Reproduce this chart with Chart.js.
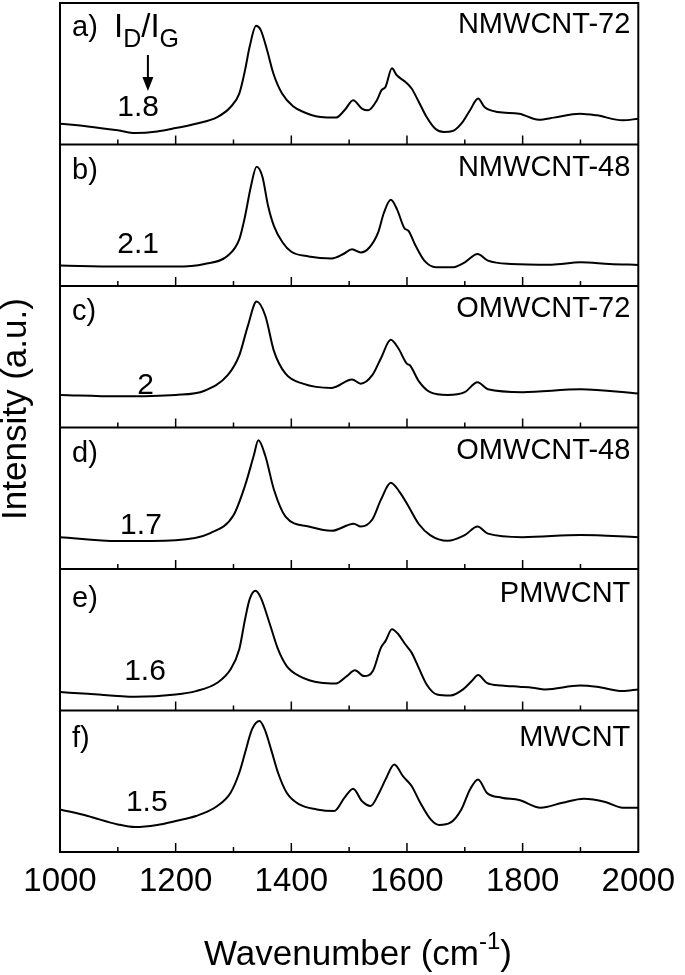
<!DOCTYPE html>
<html><head><meta charset="utf-8">
<script src="https://cdn.jsdelivr.net/npm/chart.js@4.4.1/dist/chart.umd.min.js"></script>
<style>html,body{margin:0;padding:0;background:#fff;}#wrap{width:685px;height:975px;}</style>
</head><body><div id="wrap"><canvas id="c" width="685" height="975"></canvas></div>
<script>
// ---- data ----
const panelLabels = ['a)','b)','c)','d)','e)','f)'];
const sampleNames = ['NMWCNT-72','NMWCNT-48','OMWCNT-72','OMWCNT-48','PMWCNT','MWCNT'];
const ratioLabels = ['1.8','2.1','2','1.7','1.6','1.5'];
const ratioWavenumbers = [1135,1135,1148,1140,1147,1150];
const xTickLabels = [1000,1200,1400,1600,1800,2000];

const wnA = [1000,1048,1100,1130,1168,1200,1235,1272,1295,1310,1320,1328,1339,1347,1358,1369,1384,1403,1421,1451,1477,1492,1507,1522,1533,1548,1556,1563,1574,1582,1597,1608,1619,1634,1649,1664,1679,1694,1709,1723,1734,1757,1794,1828,1854,1899,1928,1973,2000];
const intA = [14.7,12.8,10.0,8.1,9.2,11.6,14.7,19.4,26.5,36.0,52.6,69.2,83.9,81.0,66.8,50.2,36.0,27.0,23.0,19.4,19.0,24.2,31.3,25.4,24.2,31.3,38.4,40.8,53.8,49.1,44.3,39.6,31.3,19.4,11.1,8.8,9.5,14.7,24.2,32.5,26.5,23.0,21.8,17.5,19.0,21.8,20.6,17.1,18.2];

const wnB = [1000,1100,1200,1250,1290,1310,1320,1330,1340,1350,1360,1370,1385,1400,1430,1470,1490,1505,1520,1535,1550,1560,1572,1583,1595,1603,1615,1630,1650,1680,1700,1722,1740,1780,1850,1900,1950,2000];
const intB = [14.4,13.7,13.7,15.6,21.4,33.0,49.3,70.2,84.2,77.2,56.3,42.3,30.7,24.2,20.9,19.5,22.6,26.0,23.7,27.2,37.7,51.6,60.9,54.0,41.2,38.8,28.4,17.9,13.3,13.3,16.7,22.6,17.9,15.6,15.1,16.7,15.6,14.9];

const wnC = [1000,1100,1200,1250,1290,1310,1325,1340,1355,1370,1390,1420,1470,1505,1520,1540,1555,1572,1585,1600,1605,1620,1640,1670,1700,1722,1740,1800,1900,2000];
const intC = [23,22,23,26,37,51,72,89,79,54,38,31,28,34,31,37,49,62,56,45,44,33,25,23,25,32,27,25,27,24];

const wnD = [1000,1100,1200,1260,1300,1320,1335,1343,1355,1370,1390,1430,1470,1508,1520,1540,1555,1572,1588,1603,1620,1640,1670,1700,1722,1740,1800,1900,2000];
const intD = [22.5,19.7,20.4,25.4,38,59,80,91,80,56,37,30,27,32,30,35,49,61,54,44,32,24,20,24,30,25,22.5,24,22.5];

const wnE = [1000,1048,1130,1200,1235,1272,1295,1310,1320,1328,1338,1347,1362,1377,1392,1414,1451,1477,1496,1510,1526,1541,1555,1563,1574,1585,1597,1608,1619,1634,1652,1675,1697,1712,1723,1738,1764,1794,1817,1839,1899,1928,1973,2000];
const intE = [13.0,11.8,9.7,11.3,13.7,19.6,29.1,43.3,64.5,78.7,84.6,79.9,62.2,43.3,31.4,24.3,19.6,19.1,24.3,28.4,24.3,27.9,44.4,49.2,57.4,53.9,46.8,40.9,31.4,18.4,11.3,10.6,14.9,20.8,25.1,19.6,17.7,16.8,16.1,14.9,17.7,16.8,13.7,14.9];

const wnF = [1000,1048,1100,1130,1168,1200,1235,1272,1295,1310,1320,1332,1345,1354,1365,1377,1392,1414,1444,1474,1492,1507,1522,1537,1552,1563,1578,1593,1608,1623,1641,1656,1675,1694,1709,1723,1738,1764,1794,1831,1869,1906,1943,1973,2000];
const intF = [30.1,25.4,19.5,17.6,19.1,21.9,25.4,32.5,41.9,56.0,70.1,86.6,92.5,86.6,72.5,56.0,41.9,33.6,30.1,28.9,38.4,44.7,36.0,32.5,41.9,51.3,61.9,53.6,46.6,34.8,23.1,19.1,20.7,30.1,44.2,51.3,41.9,38.4,36.7,31.3,34.8,37.6,35.3,31.3,31.3];

const wavenumbers = [wnA,wnB,wnC,wnD,wnE,wnF];
const intensities = [intA,intB,intC,intD,intE,intF];
const NP = 6;

const FONT = '"Liberation Sans", Arial, Helvetica, sans-serif';
// text placement (px below each panel's top edge)
const ratioDy = [105,100,100,98,103,92];
const letterDy = [25,26,26,26,30,28];
const nameDy = [22,23,23,23,25,27];

const datasets = intensities.map((arr,i)=>({
  label: sampleNames[i],
  data: arr.map((v,k)=>({x: wavenumbers[i][k], y: (NP-1-i) + v/100})),
  borderColor:'#000', borderWidth:2, pointRadius:0, showLine:true, fill:false,
  cubicInterpolationMode:'monotone'
}));

function line(ctx,x1,y1,x2,y2){ctx.beginPath();ctx.moveTo(x1,y1);ctx.lineTo(x2,y2);ctx.stroke();}

const annot = {
  id:'annot',
  afterDraw(chart){
    const {ctx, chartArea:ca, scales:{x,y}} = chart;
    ctx.save();
    ctx.strokeStyle='#000'; ctx.fillStyle='#000'; ctx.lineWidth=2;
    ctx.strokeRect(ca.left, ca.top, ca.right-ca.left, ca.bottom-ca.top);
    for(let k=1;k<NP;k++){const py=y.getPixelForValue(k); line(ctx,ca.left,py,ca.right,py);}
    ctx.lineWidth=1.5;
    for(let k=0;k<NP;k++){
      const py=y.getPixelForValue(k);
      for(let v=1100; v<2000; v+=100){const px=x.getPixelForValue(v); line(ctx,px,py,px,py-(v%200===0?9:5));}
    }
    for(let i=0;i<NP;i++){
      const top = y.getPixelForValue(NP-i);
      ctx.font = '29px '+FONT;
      ctx.textBaseline='middle';
      ctx.textAlign='left';
      ctx.fillText(panelLabels[i], ca.left+12, top+letterDy[i]);
      ctx.textAlign='right';
      ctx.fillText(sampleNames[i], ca.right-8, top+nameDy[i]);
      ctx.textAlign='center';
      ctx.font = '30px '+FONT;
      ctx.fillText(ratioLabels[i], x.getPixelForValue(ratioWavenumbers[i]), top+ratioDy[i]);
    }
    // I_D/I_G with arrow
    const t0 = y.getPixelForValue(NP);
    let cx = ca.left+54;
    const base = t0+34;
    ctx.textAlign='left'; ctx.textBaseline='alphabetic';
    const parts = [['I',33,0],['D',25,10],['/',33,0],['I',33,0],['G',25,10]];
    for(const [s,fs,dy] of parts){ctx.font=fs+'px '+FONT; ctx.fillText(s,cx,base+dy); cx+=ctx.measureText(s).width;}
    const ax = x.getPixelForValue(1152);
    ctx.lineWidth=2;
    line(ctx,ax,t0+52,ax,t0+78);
    ctx.beginPath(); ctx.moveTo(ax-5.5,t0+74); ctx.lineTo(ax+5.5,t0+74); ctx.lineTo(ax,t0+88); ctx.closePath(); ctx.fill();
    // axis titles
    ctx.textBaseline='alphabetic';
    const FS=35, SS=24;
    ctx.font=FS+'px '+FONT;
    const m1='Wavenumber (cm', sup='-1', m2=')';
    const w1=ctx.measureText(m1).width, w3=ctx.measureText(m2).width;
    ctx.font=SS+'px '+FONT; const w2=ctx.measureText(sup).width;
    let sx=358-(w1+w2+w3)/2; const by=965;
    ctx.font=FS+'px '+FONT; ctx.textAlign='left'; ctx.fillText(m1,sx,by); sx+=w1;
    ctx.font=SS+'px '+FONT; ctx.fillText(sup,sx,by-16); sx+=w2;
    ctx.font=FS+'px '+FONT; ctx.fillText(m2,sx,by);
    ctx.save(); ctx.translate(16,409); ctx.rotate(-Math.PI/2);
    ctx.textAlign='center'; ctx.textBaseline='middle'; ctx.font='35px '+FONT;
    ctx.fillText('Intensity (a.u.)',0,0); ctx.restore();
    ctx.restore();
  }
};

new Chart(document.getElementById('c'), {
  type:'scatter',
  data:{datasets},
  options:{
    responsive:false, animation:false,
    layout:{padding:{top:3,right:40,left:0,bottom:0}},
    plugins:{legend:{display:false},tooltip:{enabled:false}},
    scales:{
      x:{type:'linear',min:1000,max:2000,
        afterFit:s=>{s.height=123;},
        grid:{display:false,drawTicks:false},
        border:{display:false},
        ticks:{stepSize:100,autoSkip:false,maxRotation:0,padding:10,color:'#000',
          font:{size:33,family:FONT},
          callback:v=> xTickLabels.includes(v)? String(v):''}
      },
      y:{type:'linear',min:0,max:NP,
        afterFit:s=>{s.width=60;},
        grid:{display:false,drawTicks:false},border:{display:false},
        ticks:{display:false}}
    }
  },
  plugins:[annot]
});
</script></body></html>
